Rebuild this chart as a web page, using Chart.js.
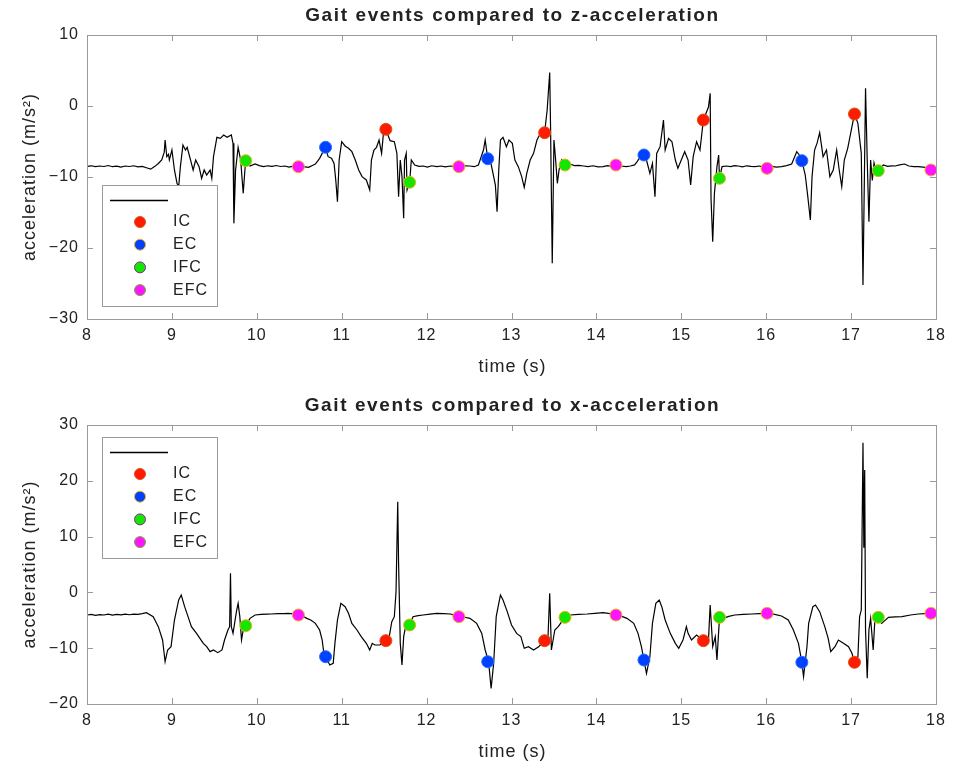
<!DOCTYPE html>
<html>
<head>
<meta charset="utf-8">
<title>Gait events</title>
<script src="https://cdn.jsdelivr.net/npm/chart.js@4.4.1/dist/chart.umd.min.js"></script>
<style>
  html, body { margin: 0; padding: 0; background: #fff; }
  canvas { display: block; }
</style>
</head>
<body>
<canvas id="zChart" width="953" height="385"></canvas>
<canvas id="xChart" width="953" height="384"></canvas>
<script>
// gait event times (s), same for both axes
var icTime  = [11.52, 13.39, 15.26, 17.04];
var ecTime  = [10.81, 12.72, 14.56, 16.42];
var ifcTime = [9.87, 11.80, 13.63, 15.45, 17.32];
var efcTime = [10.49, 12.38, 14.23, 16.01, 17.94];

// acceleration at each event, z then x
var icZ  = [-3.29, -3.76, -1.97, -1.13];
var ecZ  = [-5.82, -7.42, -6.90, -7.70];
var ifcZ = [-7.70, -10.75, -8.31, -10.19, -9.11];
var efcZ = [-8.55, -8.54, -8.31, -8.78, -9.01];

var icX  = [-8.65, -8.65, -8.65, -12.53];
var ecX  = [-11.52, -12.42, -12.12, -12.53];
var ifcX = [-5.96, -5.84, -4.47, -4.47, -4.47];
var efcX = [-4.05, -4.35, -4.05, -3.75, -3.75];

// z-acceleration signal
var zTime = [8.00, 8.05, 8.10, 8.15, 8.20, 8.25, 8.30, 8.35, 8.40, 8.45, 8.50, 8.55, 8.60, 8.65, 8.70, 8.75, 8.80, 8.84, 8.88, 8.91,
  8.92, 8.94, 8.96, 8.97, 9.00, 9.03, 9.06, 9.08, 9.10, 9.13, 9.16, 9.18, 9.22, 9.25, 9.28, 9.32, 9.35, 9.38, 9.41, 9.45,
  9.47, 9.49, 9.53, 9.57, 9.61, 9.65, 9.70, 9.72, 9.73, 9.75, 9.78, 9.81, 9.84, 9.86, 9.87, 9.92, 9.98, 10.03, 10.08, 10.13,
  10.18, 10.23, 10.28, 10.33, 10.38, 10.43, 10.49, 10.55, 10.61, 10.66, 10.69, 10.74, 10.78, 10.81, 10.84, 10.88, 10.91, 10.93, 10.95, 10.97,
  11.00, 11.04, 11.08, 11.12, 11.16, 11.20, 11.24, 11.29, 11.33, 11.35, 11.38, 11.41, 11.44, 11.47, 11.49, 11.52, 11.57, 11.62, 11.65, 11.67,
  11.69, 11.71, 11.73, 11.74, 11.76, 11.77, 11.80, 11.82, 11.86, 11.91, 11.96, 12.01, 12.06, 12.12, 12.17, 12.22, 12.28, 12.33, 12.38, 12.44,
  12.51, 12.56, 12.61, 12.67, 12.69, 12.72, 12.75, 12.79, 12.81, 12.83, 12.85, 12.87, 12.90, 12.94, 12.97, 13.01, 13.04, 13.08, 13.12, 13.15,
  13.18, 13.22, 13.26, 13.30, 13.34, 13.37, 13.39, 13.42, 13.45, 13.46, 13.48, 13.50, 13.52, 13.54, 13.56, 13.59, 13.63, 13.69, 13.74, 13.79,
  13.85, 13.90, 13.96, 14.02, 14.08, 14.13, 14.18, 14.23, 14.29, 14.35, 14.40, 14.45, 14.48, 14.53, 14.56, 14.59, 14.63, 14.66, 14.69, 14.71,
  14.75, 14.79, 14.81, 14.85, 14.89, 14.93, 14.96, 15.00, 15.04, 15.08, 15.11, 15.14, 15.18, 15.22, 15.26, 15.32, 15.34, 15.35, 15.37, 15.39,
  15.42, 15.44, 15.45, 15.48, 15.53, 15.58, 15.63, 15.67, 15.72, 15.77, 15.82, 15.87, 15.92, 15.96, 16.01, 16.07, 16.12, 16.18, 16.24, 16.30,
  16.36, 16.39, 16.42, 16.46, 16.49, 16.52, 16.54, 16.57, 16.60, 16.63, 16.67, 16.71, 16.75, 16.79, 16.83, 16.86, 16.89, 16.92, 16.96, 17.01,
  17.04, 17.08, 17.12, 17.14, 17.17, 17.19, 17.21, 17.23, 17.25, 17.27, 17.30, 17.32, 17.38, 17.43, 17.48, 17.52, 17.57, 17.63, 17.68, 17.74,
  17.79, 17.85, 17.90, 17.94, 18.00];
var zAcc = [-8.50, -8.42, -8.55, -8.45, -8.52, -8.38, -8.55, -8.47, -8.60, -8.45, -8.52, -8.42, -8.58, -8.50, -8.70, -8.90, -8.50, -8.10, -7.60, -6.50,
  -4.79, -7.14, -6.80, -7.61, -6.20, -9.01, -10.89, -11.36, -8.54, -5.49, -6.20, -5.82, -7.61, -9.01, -7.61, -8.54, -10.19, -9.01, -9.72, -9.01,
  -10.19, -7.14, -4.41, -4.55, -4.08, -4.41, -4.08, -5.26, -16.53, -9.01, -5.82, -7.61, -12.30, -9.01, -7.70, -8.45, -8.17, -8.40, -8.55, -8.42,
  -8.50, -8.38, -8.52, -8.45, -8.60, -8.48, -8.64, -8.55, -8.64, -8.35, -8.17, -7.37, -6.43, -5.82, -7.14, -7.37, -8.08, -10.42, -13.47, -7.61,
  -5.03, -5.63, -5.96, -6.43, -7.61, -9.01, -9.95, -10.42, -11.83, -7.61, -6.20, -5.82, -4.79, -6.67, -4.08, -3.29, -4.88, -5.03, -6.67, -12.77,
  -7.61, -9.95, -15.82, -7.61, -6.67, -11.83, -10.75, -7.61, -8.31, -8.50, -8.45, -8.60, -8.42, -8.54, -8.45, -8.58, -8.45, -8.52, -8.54, -8.42,
  -8.45, -8.55, -8.31, -6.20, -4.79, -7.42, -7.61, -9.95, -11.13, -14.88, -9.01, -4.79, -4.41, -5.73, -4.79, -5.26, -7.61, -8.54, -9.95, -11.46,
  -9.48, -7.61, -6.67, -4.79, -3.85, -3.62, -3.76, -0.56, 4.70, -2.91, -22.16, -4.79, -7.61, -10.89, -9.01, -7.61, -8.31, -8.17, -8.40, -8.35,
  -8.45, -8.55, -8.42, -8.58, -8.54, -8.40, -8.50, -8.31, -8.45, -8.55, -8.45, -8.30, -7.84, -6.90, -6.90, -7.61, -9.48, -8.08, -12.77, -6.67,
  -5.73, -1.97, -6.20, -4.55, -5.03, -7.61, -8.78, -7.61, -6.43, -7.61, -11.13, -7.14, -5.03, -6.20, -1.97, -0.14, 1.78, -13.00, -19.11, -12.30,
  -8.54, -6.90, -10.19, -8.54, -8.45, -8.55, -8.40, -8.45, -8.58, -8.42, -8.50, -8.54, -8.45, -8.60, -8.78, -8.50, -8.62, -8.54, -8.40, -8.17,
  -6.43, -6.90, -7.70, -9.72, -12.77, -16.06, -9.95, -6.20, -5.20, -3.76, -7.14, -6.20, -9.95, -9.01, -6.20, -9.01, -11.36, -7.61, -5.96, -2.91,
  -1.13, -2.44, -6.67, -25.21, 2.49, -7.61, -16.29, -7.61, -10.50, -8.00, -9.50, -9.11, -8.31, -8.50, -8.42, -8.45, -8.30, -8.17, -8.45, -8.55,
  -8.54, -8.62, -8.70, -9.01, -8.78];

// x-acceleration signal
var xTime = [8.00, 8.05, 8.10, 8.15, 8.20, 8.25, 8.30, 8.35, 8.40, 8.45, 8.50, 8.55, 8.60, 8.65, 8.70, 8.78, 8.84, 8.89, 8.92, 8.95,
  8.99, 9.03, 9.08, 9.11, 9.15, 9.19, 9.23, 9.29, 9.33, 9.37, 9.41, 9.45, 9.49, 9.54, 9.59, 9.62, 9.66, 9.68, 9.69, 9.70,
  9.72, 9.76, 9.78, 9.80, 9.82, 9.84, 9.87, 9.92, 9.98, 10.05, 10.12, 10.17, 10.25, 10.32, 10.37, 10.43, 10.49, 10.54, 10.59, 10.64,
  10.69, 10.74, 10.77, 10.79, 10.81, 10.86, 10.90, 10.92, 10.95, 10.99, 11.04, 11.08, 11.12, 11.18, 11.23, 11.29, 11.33, 11.36, 11.39, 11.45,
  11.52, 11.56, 11.59, 11.62, 11.64, 11.66, 11.67, 11.69, 11.71, 11.73, 11.76, 11.80, 11.84, 11.90, 11.96, 12.04, 12.12, 12.20, 12.28, 12.38,
  12.45, 12.51, 12.59, 12.65, 12.69, 12.73, 12.76, 12.79, 12.82, 12.85, 12.87, 12.90, 12.95, 13.00, 13.06, 13.11, 13.15, 13.20, 13.26, 13.32,
  13.39, 13.43, 13.45, 13.47, 13.51, 13.55, 13.63, 13.69, 13.79, 13.89, 13.98, 14.08, 14.16, 14.23, 14.30, 14.36, 14.44, 14.49, 14.53, 14.56,
  14.59, 14.63, 14.66, 14.70, 14.74, 14.77, 14.81, 14.87, 14.93, 14.97, 15.02, 15.06, 15.08, 15.12, 15.18, 15.26, 15.32, 15.34, 15.37, 15.40,
  15.42, 15.45, 15.49, 15.56, 15.63, 15.73, 15.83, 15.92, 16.01, 16.10, 16.18, 16.26, 16.32, 16.38, 16.42, 16.44, 16.48, 16.50, 16.55, 16.58,
  16.63, 16.69, 16.73, 16.76, 16.81, 16.85, 16.91, 16.97, 17.01, 17.04, 17.08, 17.10, 17.12, 17.14, 17.15, 17.16, 17.17, 17.19, 17.21, 17.23,
  17.26, 17.28, 17.32, 17.36, 17.44, 17.52, 17.60, 17.70, 17.79, 17.87, 17.94, 18.00];
var xAcc = [-4.05, -3.95, -4.10, -3.98, -4.05, -3.90, -4.08, -3.95, -4.02, -3.88, -4.00, -3.90, -3.95, -3.80, -3.63, -4.35, -6.14, -8.53, -12.42, -10.32,
  -9.73, -4.95, -1.36, -0.47, -2.56, -4.35, -6.14, -7.34, -8.23, -9.13, -9.73, -10.62, -10.32, -10.80, -10.32, -8.53, -6.74, -6.14, 3.41, -6.14,
  -7.34, -3.45, -1.96, -4.35, -8.53, -6.74, -5.96, -4.65, -4.05, -3.95, -3.90, -3.87, -3.80, -3.82, -3.75, -3.85, -4.05, -4.25, -4.65, -5.00,
  -5.55, -6.74, -8.53, -10.92, -11.52, -13.01, -12.71, -9.13, -4.95, -1.96, -2.56, -3.75, -5.55, -6.74, -7.93, -9.13, -10.32, -9.13, -9.43, -9.43,
  -8.65, -7.93, -5.25, -4.35, 0.13, 16.26, 5.21, -9.13, -13.01, -7.93, -5.55, -5.84, -4.35, -4.15, -4.05, -3.90, -3.75, -3.82, -3.87, -4.35,
  -4.45, -4.65, -5.55, -7.34, -10.32, -12.42, -17.19, -12.71, -4.35, -1.96, -0.47, -1.36, -3.45, -5.84, -7.34, -7.93, -10.02, -9.73, -10.32, -9.73,
  -8.65, -7.93, -0.16, -10.32, -6.74, -6.14, -4.47, -4.05, -3.95, -3.87, -3.75, -3.63, -3.80, -4.05, -4.30, -4.65, -5.55, -7.34, -9.73, -12.12,
  -14.51, -11.52, -5.55, -1.96, -1.36, -2.56, -4.95, -7.34, -9.13, -10.02, -8.53, -6.14, -7.34, -8.53, -7.64, -8.65, -8.53, -2.26, -9.73, -7.93,
  -12.12, -4.47, -4.65, -4.30, -4.05, -3.95, -3.87, -3.80, -3.75, -3.95, -4.23, -4.95, -6.74, -9.13, -12.53, -15.10, -9.73, -5.55, -2.56, -2.26,
  -3.45, -6.14, -8.23, -10.62, -9.73, -8.53, -9.13, -9.73, -10.92, -12.53, -11.52, -4.35, -3.16, 26.83, 8.00, 21.94, -6.74, -15.40, -6.74, -4.65,
  -10.32, -4.95, -4.47, -5.55, -4.47, -4.40, -4.35, -4.05, -3.87, -3.80, -3.75, -3.60];

// tick values
var timeTicks = [8, 9, 10, 11, 12, 13, 14, 15, 16, 17, 18];
var zTicks = [-30, -20, -10, 0, 10];
var xTicks = [-20, -10, 0, 10, 20, 30];

var FONT = '"Liberation Sans", Arial, Helvetica, sans-serif';
Chart.defaults.font.family = FONT;
Chart.defaults.color = '#262626';

var FRAME = '#9a9a9a';
var TEXT = '#222';
var SPACING = '1px';

function points(ts, vs) {
    return ts.map(function (t, i) { return {x: t, y: vs[i]}; });
}

function markerSet(label, ts, vs, face, edge, legendEdge, order) {
    return {
        label: label,
        data: points(ts, vs),
        showLine: false,
        pointRadius: 6,
        pointHoverRadius: 6,
        pointBorderWidth: 1,
        pointBackgroundColor: face,
        pointBorderColor: edge,
        legendEdge: legendEdge,
        order: order
    };
}

// axes box with inward ticks on all four sides, plus title and axis labels
var matlabAxes = {
    id: 'matlabAxes',
    beforeDraw: function (chart) {
        // the tick labels are drawn by the scales with this spacing
        chart.ctx.letterSpacing = SPACING;
    },
    afterDraw: function (chart, args, opts) {
        var ctx = chart.ctx;
        var a = chart.chartArea;
        var xs = chart.scales.x, ys = chart.scales.y;
        var len = 6;
        ctx.save();
        ctx.strokeStyle = FRAME;
        ctx.lineWidth = 1;
        ctx.beginPath();
        xs.ticks.forEach(function (t) {
            var px = Math.round(xs.getPixelForValue(t.value)) + 0.5;
            ctx.moveTo(px, a.bottom); ctx.lineTo(px, a.bottom - len);
            ctx.moveTo(px, a.top); ctx.lineTo(px, a.top + len);
        });
        ys.ticks.forEach(function (t) {
            var py = Math.round(ys.getPixelForValue(t.value)) + 0.5;
            ctx.moveTo(a.left, py); ctx.lineTo(a.left + len, py);
            ctx.moveTo(a.right, py); ctx.lineTo(a.right - len, py);
        });
        ctx.stroke();
        ctx.strokeRect(Math.round(a.left) + 0.5, Math.round(a.top) + 0.5,
            Math.round(a.right - a.left), Math.round(a.bottom - a.top));

        ctx.fillStyle = TEXT;
        ctx.textAlign = 'center';
        ctx.textBaseline = 'middle';
        ctx.letterSpacing = '1.6px';
        ctx.font = 'bold 19px ' + FONT;
        ctx.fillText(opts.title, (a.left + a.right) / 2 + 1, a.top - 19);
        ctx.letterSpacing = SPACING;
        ctx.font = '18px ' + FONT;
        ctx.fillText('time (s)', (a.left + a.right) / 2 + 1, a.bottom + 48);
        ctx.translate(a.left - 57, (a.top + a.bottom) / 2);
        ctx.rotate(-Math.PI / 2);
        ctx.fillText('acceleration (m/s\u00b2)', 0, 0);
        ctx.restore();
    }
};

// boxed legend inside the axes: line sample then one row per event type
var boxLegend = {
    id: 'boxLegend',
    afterDraw: function (chart, args, opts) {
        var ctx = chart.ctx;
        var x = opts.left, y = opts.top;
        ctx.save();
        ctx.fillStyle = '#fff';
        ctx.fillRect(x, y, 115, 121);
        ctx.strokeStyle = FRAME;
        ctx.lineWidth = 1;
        ctx.strokeRect(x + 0.5, y + 0.5, 115, 121);

        ctx.strokeStyle = '#000';
        ctx.lineWidth = 1.3;
        ctx.beginPath();
        ctx.moveTo(x + 8, y + 15.5);
        ctx.lineTo(x + 66, y + 15.5);
        ctx.stroke();

        ctx.lineWidth = 1;
        ctx.letterSpacing = SPACING;
        ctx.font = '16px ' + FONT;
        ctx.textBaseline = 'middle';
        ctx.textAlign = 'left';
        var rows = chart.data.datasets.filter(function (d) { return d.legendEdge; });
        rows.forEach(function (d, i) {
            var cy = y + 37 + i * 22.7;
            ctx.beginPath();
            ctx.arc(x + 38, cy, 5.5, 0, Math.PI * 2);
            ctx.fillStyle = d.pointBackgroundColor;
            ctx.fill();
            ctx.strokeStyle = d.legendEdge;
            ctx.stroke();
            ctx.fillStyle = TEXT;
            ctx.fillText(d.label, x + 71, cy);
        });
        ctx.restore();
        ctx.letterSpacing = '0px';
    }
};

function makeChart(id, cfg) {
    return new Chart(document.getElementById(id), {
        type: 'line',
        data: {
            datasets: [
                {
                    label: '',
                    data: points(cfg.time, cfg.acc),
                    borderColor: '#000',
                    borderWidth: 1.2,
                    pointRadius: 0,
                    tension: 0,
                    order: 10
                },
                markerSet('IC', icTime, cfg.ic, '#ff1a00', '#d95319', '#d95319', 1),
                markerSet('EC', ecTime, cfg.ec, '#0040ff', '#2a6cff', '#edb120', 2),
                markerSet('IFC', ifcTime, cfg.ifc, '#14e600', '#edb120', '#7e2f8e', 3),
                markerSet('EFC', efcTime, cfg.efc, '#ff14ff', '#edb120', '#77ac30', 4)
            ]
        },
        options: {
            responsive: false,
            animation: false,
            events: [],
            layout: {padding: {top: cfg.padTop, right: 17, left: 0, bottom: 0}},
            scales: {
                x: {
                    type: 'linear',
                    min: 8, max: 18,
                    grid: {display: false, drawTicks: false},
                    border: {display: false},
                    afterBuildTicks: function (axis) {
                        axis.ticks = timeTicks.map(function (v) { return {value: v}; });
                    },
                    afterFit: function (axis) { axis.height = cfg.xHeight; },
                    ticks: {padding: 7, maxRotation: 0, font: {size: 16}, color: TEXT}
                },
                y: {
                    min: cfg.yTicks[0], max: cfg.yTicks[cfg.yTicks.length - 1],
                    grid: {display: false, drawTicks: false},
                    border: {display: false},
                    afterBuildTicks: function (axis) {
                        axis.ticks = cfg.yTicks.map(function (v) { return {value: v}; });
                    },
                    afterFit: function (axis) { axis.width = 87; },
                    ticks: {
                        padding: 8,
                        font: {size: 16},
                        color: TEXT,
                        callback: function (v) { return v < 0 ? '\u2212' + Math.abs(v) : String(v); }
                    }
                }
            },
            plugins: {
                legend: {display: false},
                tooltip: {enabled: false},
                matlabAxes: {title: cfg.title},
                boxLegend: {left: 102, top: cfg.legendTop}
            }
        },
        plugins: [matlabAxes, boxLegend]
    });
}

makeChart('zChart', {
    title: 'Gait events compared to z-acceleration',
    time: zTime, acc: zAcc,
    ic: icZ, ec: ecZ, ifc: ifcZ, efc: efcZ,
    yTicks: zTicks,
    padTop: 35, xHeight: 66, legendTop: 185
});

makeChart('xChart', {
    title: 'Gait events compared to x-acceleration',
    time: xTime, acc: xAcc,
    ic: icX, ec: ecX, ifc: ifcX, efc: efcX,
    yTicks: xTicks,
    padTop: 40, xHeight: 65, legendTop: 52
});
</script>
</body>
</html>
